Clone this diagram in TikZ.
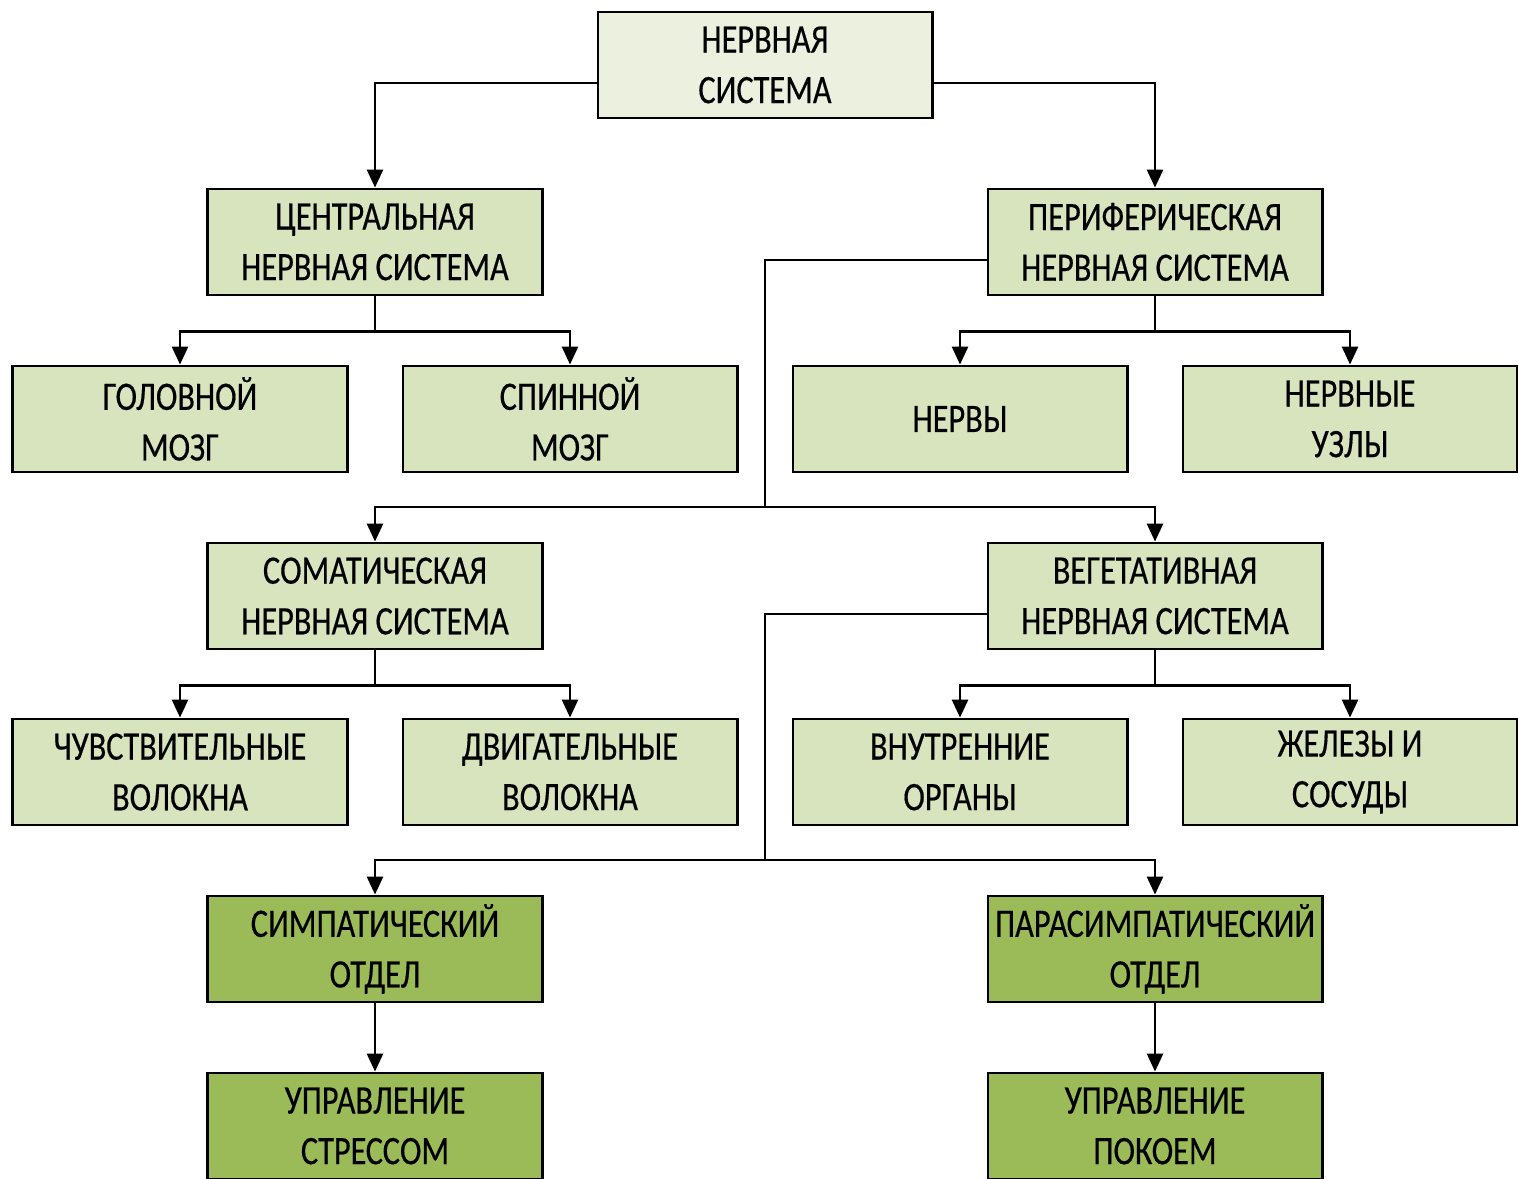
\documentclass[tikz,border=0pt]{standalone}
\usepackage{fontspec}
\setmainfont[FakeStretch=0.80,FakeBold=0.4]{Carlito}
\usetikzlibrary{arrows.meta}

\definecolor{rootgreen}{HTML}{EBF1DE}
\definecolor{palegreen}{HTML}{D7E4BD}
\definecolor{darkgreen}{HTML}{9BBB59}

\begin{document}
\begin{tikzpicture}[
    x=0.01cm,
    y=-0.01cm,
    >={Triangle[length=1.8mm,width=1.6mm]},
    box/.style={
      draw,
      line width=0.8pt,
      minimum width=3.34cm,
      minimum height=1.06cm,
      inner sep=0pt,
      align=center,
      font=\fontsize{11.5}{14.4}\selectfont
    },
    rootbox/.style={box,fill=rootgreen},
    palebox/.style={box,fill=palegreen},
    darkbox/.style={box,fill=darkgreen},
    link/.style={->,line width=0.8pt}
  ]
    \useasboundingbox (0,0) rectangle (1518,1179);

    \node[rootbox] (ns) at (765,65) {НЕРВНАЯ\\СИСТЕМА};

    \node[palebox] (cns) at (375,242) {ЦЕНТРАЛЬНАЯ\\НЕРВНАЯ СИСТЕМА};
    \node[palebox] (pns) at (1155,242) {ПЕРИФЕРИЧЕСКАЯ\\НЕРВНАЯ СИСТЕМА};

    \foreach \x/\n/\t in {180/brain/{ГОЛОВНОЙ\\МОЗГ},570/spine/{СПИННОЙ\\МОЗГ},
                          960/nerves/{НЕРВЫ},1350/ganglia/{НЕРВНЫЕ\\УЗЛЫ}}
      \node[palebox] (\n) at (\x,419) {\t};

    \node[palebox] (som) at (375,596) {СОМАТИЧЕСКАЯ\\НЕРВНАЯ СИСТЕМА};
    \node[palebox] (veg) at (1155,596) {ВЕГЕТАТИВНАЯ\\НЕРВНАЯ СИСТЕМА};

    \foreach \x/\n/\t in {180/sens/{ЧУВСТВИТЕЛЬНЫЕ\\ВОЛОКНА},570/motor/{ДВИГАТЕЛЬНЫЕ\\ВОЛОКНА},
                          960/organs/{ВНУТРЕННИЕ\\ОРГАНЫ},1350/glands/{ЖЕЛЕЗЫ И\\СОСУДЫ}}
      \node[palebox] (\n) at (\x,772) {\t};

    \node[darkbox] (symp) at (375,949) {СИМПАТИЧЕСКИЙ\\ОТДЕЛ};
    \node[darkbox] (para) at (1155,949) {ПАРАСИМПАТИЧЕСКИЙ\\ОТДЕЛ};
    \node[darkbox] (stress) at (375,1126) {УПРАВЛЕНИЕ\\СТРЕССОМ};
    \node[darkbox] (rest) at (1155,1126) {УПРАВЛЕНИЕ\\ПОКОЕМ};

    \coordinate (pj) at (765,507);
    \coordinate (vj) at (765,860);

    % top level
    \draw[link] ([yshift=-0.18cm]ns.west) -| (cns);
    \draw[link] ([yshift=-0.18cm]ns.east) -| (pns);

    % branches
    \foreach \p/\a/\b in {cns/brain/spine,pns/nerves/ganglia,som/sens/motor,veg/organs/glands} {
      \draw[link] (\p.south) -- ++(0,35) -| (\a);
      \draw[link] (\p.south) -- ++(0,35) -| (\b);
    }

    \draw[link] ([yshift=-0.18cm]pns.west) -| (pj) -| (som);
    \draw[link] (pj) -| (veg);
    \draw[link] ([yshift=-0.18cm]veg.west) -| (vj) -| (symp);
    \draw[link] (vj) -| (para);

    \draw[link] (symp) -- (stress);
    \draw[link] (para) -- (rest);
  \end{tikzpicture}
\end{document}
